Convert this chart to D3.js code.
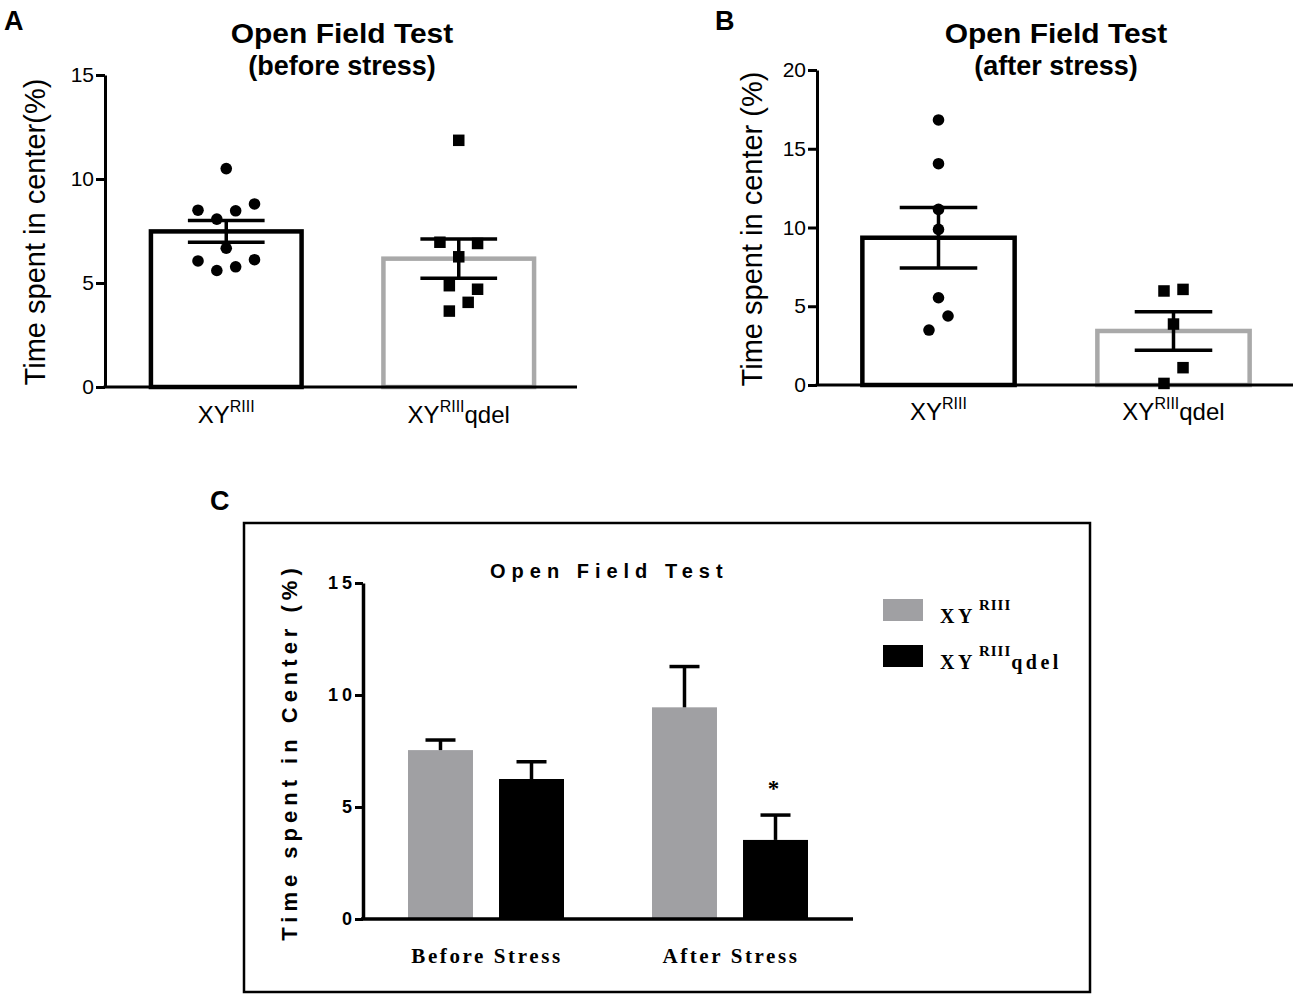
<!DOCTYPE html>
<html><head><meta charset="utf-8">
<script src="https://cdn.jsdelivr.net/npm/d3@7"></script>
<style>body{margin:0;background:#fff} svg{display:block}</style>
</head><body>
<svg id="chart" width="1300" height="997"></svg>
<script>
// ---------------- data ----------------
const genotypeBase = ["XY", "XY"];
const genotypeSup = ["RIII", "RIII"];
const genotypeTail = ["", "qdel"];

// Panel A (before stress)
const aMeans = [7.48, 6.17];
const aSEM = [0.52, 0.94];
const aWT = [10.5, 8.5, 8.07, 8.47, 8.8, 6.67, 6.06, 5.6, 5.78, 6.12];
const aWTCol = [0, -3, -1, 1, 3, 0, -3, -1, 1, 3];
const aDel = [11.86, 6.96, 6.9, 6.26, 4.87, 4.7, 4.07, 3.65];
const aDelCol = [0, -2, 2, 0, -1, 2, 1, -1];
const aTicks = [0, 5, 10, 15];

// Panel B (after stress)
const bMeans = [9.35, 3.43];
const bSEM = [1.92, 1.22];
const bWT = [16.83, 14.05, 11.15, 9.88, 5.54, 4.38, 3.49];
const bWTCol = [0, 0, 0, 0, 0, 1, -1];
const bDel = [5.97, 6.07, 3.87, 1.1, 0.1];
const bDelCol = [-1, 1, 0, 1, -1];
const bTicks = [0, 5, 10, 15, 20];

// Panel C (summary)
const cConditions = ["Before Stress", "After Stress"];
const cSeries = ["wt", "qdel"];
const cMeansWT = [7.54, 9.45];
const cSemWT = [0.45, 1.82];
const cMeansDel = [6.25, 3.53];
const cSemDel = [0.77, 1.11];
const cSigDel = ["", "*"];
const cTicks = [0, 5, 10, 15];

// ---------------- drawing ----------------
const svg = d3.select("#chart");
const SANS = "'Liberation Sans', Arial, Helvetica, sans-serif";
const SERIF = "'Liberation Serif', 'Times New Roman', serif";
const GRAY_LINE = "#a9a9a9";
const GRAY_FILL = "#a0a0a3";

function genoText(g, i, x, y, o) {
  const t = g.append("text").attr("x", x).attr("y", y)
    .attr("text-anchor", o.anchor || "middle")
    .attr("font-family", o.family).attr("font-weight", o.weight || "normal")
    .attr("font-size", o.size).attr("fill", "#000");
  t.append("tspan").attr("letter-spacing", o.ls || 0).text(genotypeBase[i]);
  t.append("tspan").attr("font-size", o.supSize).attr("dy", -o.supRaise)
    .attr("dx", o.supDx || 0).attr("letter-spacing", o.supLs || 0).text(genotypeSup[i]);
  if (genotypeTail[i]) t.append("tspan").attr("dy", o.supRaise)
    .attr("letter-spacing", o.ls || 0).text(genotypeTail[i]);
  return t;
}

function dotPanel(p) {
  const g = svg.append("g");
  const y = d3.scaleLinear().domain([0, p.yMax]).range([p.y0, p.y1]);
  const x = d3.scaleBand().domain([0, 1]).range([p.bandL, p.bandR]);
  const step = x.step();
  const barW = step * 0.648, capW = step * 0.33, unit = step * 0.0405;
  const cx = i => x(i) + x.bandwidth() / 2;

  // bars
  g.selectAll("rect.bar").data(p.means).join("rect").attr("class", "bar")
    .attr("x", (d, i) => cx(i) - barW / 2)
    .attr("y", d => y(d))
    .attr("width", barW).attr("height", d => y(0) - y(d))
    .attr("fill", "#fff")
    .attr("stroke", (d, i) => i ? GRAY_LINE : "#000")
    .attr("stroke-width", 4.5);

  // points
  g.selectAll("circle.pt").data(p.pts[0]).join("circle").attr("class", "pt")
    .attr("cx", (d, k) => cx(0) + p.cols[0][k] * unit)
    .attr("cy", d => y(d)).attr("r", 5.8).attr("fill", "#000");
  const sq = 11.5;
  g.selectAll("rect.pt").data(p.pts[1]).join("rect").attr("class", "pt")
    .attr("x", (d, k) => cx(1) + p.cols[1][k] * unit - sq / 2)
    .attr("y", d => y(d) - sq / 2).attr("width", sq).attr("height", sq).attr("fill", "#000");

  // error bars (mean ± SEM)
  p.means.forEach((m, i) => {
    const lo = y(m - p.sems[i]), hi = y(m + p.sems[i]);
    g.append("line").attr("x1", cx(i)).attr("x2", cx(i)).attr("y1", lo).attr("y2", hi)
      .attr("stroke", "#000").attr("stroke-width", 3.5);
    [lo, hi].forEach(v => g.append("line")
      .attr("x1", cx(i) - capW / 2).attr("x2", cx(i) + capW / 2).attr("y1", v).attr("y2", v)
      .attr("stroke", "#000").attr("stroke-width", 3.5));
  });

  // axes
  const ax = g.append("g").attr("transform", `translate(${p.axisX},0)`)
    .call(d3.axisLeft(y).tickValues(p.ticks).tickSize(9).tickSizeOuter(0).tickPadding(2));
  ax.select(".domain").attr("stroke", "#000").attr("stroke-width", 3);
  ax.selectAll(".tick line").attr("stroke", "#000").attr("stroke-width", 3);
  ax.selectAll(".tick text").attr("font-family", SANS).attr("font-size", 21).attr("fill", "#000");
  g.append("line").attr("x1", p.axisX - 1.5).attr("x2", p.axisEnd)
    .attr("y1", y(0)).attr("y2", y(0)).attr("stroke", "#000").attr("stroke-width", 3);

  // category labels
  [0, 1].forEach(i => genoText(g, i, cx(i), p.labelY, {
    family: SANS, size: 24, supSize: 16, supRaise: 11.5, anchor: "middle"
  }));

  // titles
  g.append("text").attr("transform", `translate(${p.titleX},${p.titleY}) scale(1.11,1)`)
    .attr("text-anchor", "middle").attr("font-family", SANS).attr("font-weight", "bold")
    .attr("font-size", 27).text("Open Field Test");
  g.append("text").attr("x", p.titleX).attr("y", p.subY)
    .attr("text-anchor", "middle").attr("font-family", SANS).attr("font-weight", "bold")
    .attr("font-size", 27).text(p.subtitle);

  // y label
  g.append("text").attr("transform", `translate(${p.yLabX},${p.yLabY}) rotate(-90)`)
    .attr("text-anchor", "middle").attr("font-family", SANS).attr("font-size", 29)
    .text(p.yLabel);

  // panel letter
  g.append("text").attr("x", p.letterX).attr("y", 30).attr("font-family", SANS)
    .attr("font-weight", "bold").attr("font-size", 27).text(p.letter);
}

dotPanel({
  yMax: 15, y0: 387, y1: 75, ticks: aTicks,
  bandL: 110, bandR: 575, axisX: 105, axisEnd: 577,
  means: aMeans, sems: aSEM, pts: [aWT, aDel], cols: [aWTCol, aDelCol],
  labelY: 423, titleX: 342, titleY: 43, subY: 75, subtitle: "(before stress)",
  yLabX: 45, yLabY: 232, yLabel: "Time spent in center(%)",
  letter: "A", letterX: 4
});

dotPanel({
  yMax: 20, y0: 385, y1: 70, ticks: bTicks,
  bandL: 821, bandR: 1291, axisX: 817, axisEnd: 1293,
  means: bMeans, sems: bSEM, pts: [bWT, bDel], cols: [bWTCol, bDelCol],
  labelY: 420, titleX: 1056, titleY: 43, subY: 75, subtitle: "(after stress)",
  yLabX: 762, yLabY: 229, yLabel: "Time spent in center (%)",
  letter: "B", letterX: 715
});

// ---------------- Panel C ----------------
(function () {
  const g = svg.append("g");
  g.append("text").attr("x", 210).attr("y", 510).attr("font-family", SANS)
    .attr("font-weight", "bold").attr("font-size", 27).text("C");
  g.append("rect").attr("x", 244).attr("y", 523).attr("width", 846).attr("height", 469)
    .attr("fill", "none").attr("stroke", "#000").attr("stroke-width", 2.5);

  const y = d3.scaleLinear().domain([0, 15]).range([919, 583]);
  const x0 = d3.scaleBand().domain(cConditions).range([364, 852]);
  const x1 = d3.scaleBand().domain(cSeries).range([44, x0.step() - 44]).paddingInner(0.286);
  const colors = { wt: GRAY_FILL, qdel: "#000" };

  const rows = cConditions.flatMap((c, i) => [
    { c, s: "wt", m: cMeansWT[i], e: cSemWT[i], sig: "" },
    { c, s: "qdel", m: cMeansDel[i], e: cSemDel[i], sig: cSigDel[i] }
  ]);
  const bx = d => x0(d.c) + x1(d.s);
  const bcx = d => bx(d) + x1.bandwidth() / 2;

  g.selectAll("rect.cbar").data(rows).join("rect").attr("class", "cbar")
    .attr("x", bx).attr("y", d => y(d.m)).attr("width", x1.bandwidth())
    .attr("height", d => y(0) - y(d.m)).attr("fill", d => colors[d.s]);

  rows.forEach(d => {
    const top = y(d.m + d.e);
    g.append("line").attr("x1", bcx(d)).attr("x2", bcx(d)).attr("y1", y(d.m)).attr("y2", top)
      .attr("stroke", "#000").attr("stroke-width", 3.5);
    g.append("line").attr("x1", bcx(d) - 15).attr("x2", bcx(d) + 15).attr("y1", top).attr("y2", top)
      .attr("stroke", "#000").attr("stroke-width", 3.5);
    if (d.sig) g.append("text").attr("x", bcx(d) - 2).attr("y", top - 19)
      .attr("text-anchor", "middle").attr("font-family", SERIF).attr("font-weight", "bold")
      .attr("font-size", 23).text(d.sig);
  });

  const ax = g.append("g").attr("transform", "translate(363,0)")
    .call(d3.axisLeft(y).tickValues(cTicks).tickSize(8).tickSizeOuter(0).tickPadding(-1));
  ax.select(".domain").attr("stroke", "#000").attr("stroke-width", 3.5);
  ax.selectAll(".tick line").attr("stroke", "#000").attr("stroke-width", 3);
  ax.selectAll(".tick text").attr("font-family", SANS).attr("font-weight", "bold")
    .attr("font-size", 18).attr("letter-spacing", 4).attr("fill", "#000");
  g.append("line").attr("x1", 361).attr("x2", 853).attr("y1", y(0)).attr("y2", y(0))
    .attr("stroke", "#000").attr("stroke-width", 3.5);

  // category labels
  g.selectAll("text.cat").data(cConditions).join("text").attr("class", "cat")
    .attr("x", d => x0(d) + x0.bandwidth() / 2 + 1).attr("y", 963)
    .attr("text-anchor", "middle").attr("font-family", SERIF).attr("font-weight", "bold")
    .attr("font-size", 21).attr("letter-spacing", 2.6).text(d => d);

  // title
  g.append("text").attr("x", 490).attr("y", 578).attr("font-family", SANS)
    .attr("font-weight", "bold").attr("font-size", 20).attr("letter-spacing", 6)
    .text("Open Field Test");

  // y label
  g.append("text").attr("transform", "translate(297,752) rotate(-90)")
    .attr("text-anchor", "middle").attr("font-family", SANS).attr("font-weight", "bold")
    .attr("font-size", 22).attr("letter-spacing", 5).text("Time spent in Center (%)");

  // legend
  cSeries.forEach((s, i) => {
    const ly = 599 + i * 46;
    g.append("rect").attr("x", 883).attr("y", ly).attr("width", 40).attr("height", 22)
      .attr("fill", colors[s]);
    genoText(g, i, 940, ly + 24, {
      family: SERIF, weight: "bold", size: 20, ls: 3.5, supSize: 15, supRaise: 13,
      supDx: 3, supLs: 1, anchor: "start"
    });
  });
})();
</script>
</body></html>
